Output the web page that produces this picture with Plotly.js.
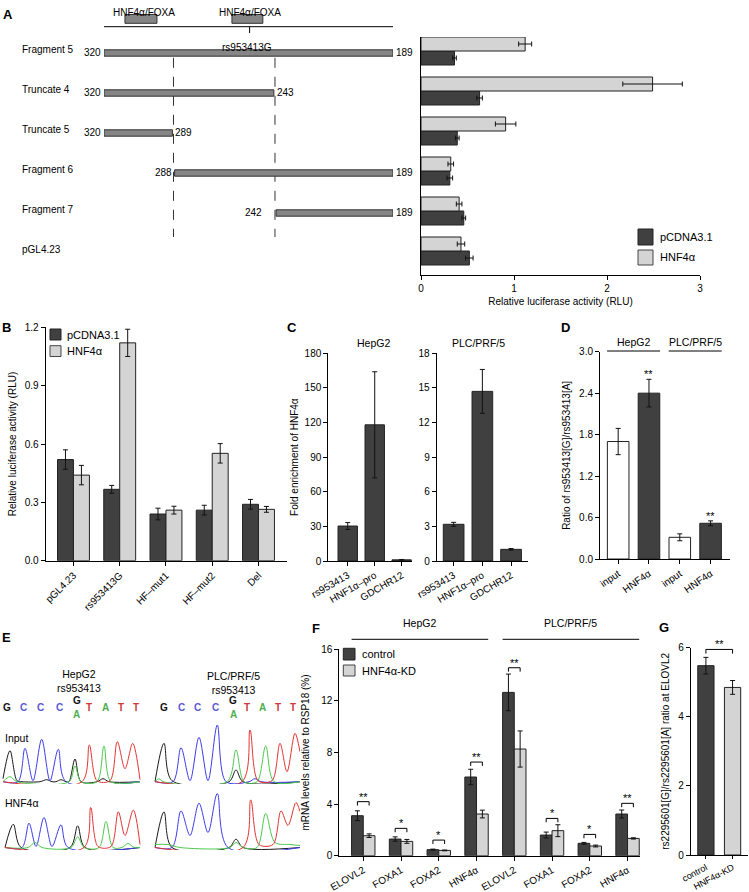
<!DOCTYPE html>
<html><head><meta charset="utf-8">
<script src="https://cdn.plot.ly/plotly-3.0.1.min.js"></script>
<style>html,body{margin:0;padding:0;background:#fff}#chart{width:749px;height:892px}</style>
</head><body><div id="chart"></div>
<script>
// ================= DATA =================
// Panel A (rows listed bottom -> top)
const aConstructs = ['pGL4.23','Fragment 7','Fragment 6','Truncate 5','Truncate 4','Fragment 5'];
const aPcdna      = [0.52, 0.46, 0.31, 0.39, 0.63, 0.36];
const aPcdnaErr   = [0.04, 0.02, 0.03, 0.02, 0.03, 0.02];
const aHnf4a      = [0.43, 0.41, 0.32, 0.91, 2.49, 1.12];
const aHnf4aErr   = [0.04, 0.03, 0.03, 0.11, 0.32, 0.07];
const aFragStart  = [null, 242, 288, 320, 320, 320];
const aFragEnd    = [null, 189, 189, 289, 243, 189];
const aRegion     = [320, 189];
const aMotifStart = [310.5, 262];
const aMotifEnd   = [296, 248];
const aMotifLabel = ['HNF4α/FOXA', 'HNF4α/FOXA'];
const aSnpPos     = 254;
const aSnpLabel   = 'rs953413G';
const aBoundaries = [288.5, 242.5];
const aTicks      = [0, 1, 2, 3];

// Panel B
const bLabels   = ['pGL4.23','rs953413G','HF–mut1','HF–mut2','Del'];
const bPcdna    = [0.52, 0.367, 0.24, 0.26, 0.29];
const bPcdnaErr = [0.05, 0.02, 0.03, 0.025, 0.025];
const bHnf4a    = [0.44, 1.12, 0.26, 0.552, 0.264];
const bHnf4aErr = [0.05, 0.07, 0.02, 0.05, 0.015];

// Panel C
const cTargets  = ['rs953413','HNF1α–pro','GDCHR12'];
const cHepg2    = [30.3, 118, 1.0];
const cHepg2Err = [3, 46, 0.3];
const cPlc      = [3.18, 14.7, 1.01];
const cPlcErr   = [0.17, 1.9, 0.07];

// Panel D
const dLabels = ['input','HNF4α','input','HNF4α'];
const dValues = [1.70, 2.40, 0.314, 0.517];
const dErr    = [0.19, 0.20, 0.05, 0.035];
const dSig    = ['', '**', '', '**'];

// Panel E (chromatogram vertices: [scan position, signal])
const eBases       = ['G','C','C','C','G','T','A','T','T'];
const eAltBase     = 'A';
const eHepBasePos  = [6.7, 23.3, 40, 59.3, 76.7, 89.3, 105.3, 120.7, 136];
const ePlcBasePos  = [164, 181, 197.7, 215, 233.3, 246.7, 262.7, 277.7, 292.7];
const eHepInBlack  = [[3,3],[10,31],[17,1],[22,0],[40,0],[46.7,2],[52,0],[56,0],[61,2],[66,0],[69,0],[75,22.7],[81,0],[97,0],[103,3],[109,0],[140,0]];
const eHepInBlue   = [[3,0],[18,0],[25,33.4],[33,1],[41.7,42.4],[50,1],[58.3,32.4],[66,0],[140,0]];
const eHepInGreen  = [[3,0],[10,5],[17,0],[69,0],[75,15.7],[81,0],[97,0],[104,35.7],[111,0],[140,0]];
const eHepInRed    = [[3,0],[82,0],[89.3,36.7],[97,1],[110,1],[117.3,40],[125,13],[132.7,38.4],[140,2]];
const eHepHnfBlack = [[5,0],[13.3,23.3],[21,0],[70,0],[77.7,21.7],[85,0],[140,0]];
const eHepHnfBlue  = [[5,0],[22,0],[29,24.3],[36,1],[44,30],[52,1],[61,22.7],[68,0],[140,0]];
const eHepHnfGreen = [[5,0],[28,0],[35,5],[42,0],[71,0],[77.7,10.7],[84,0],[99,0],[106,26],[113,0],[122,0],[128,4],[134,0],[140,0]];
const eHepHnfRed   = [[5,0],[84,0],[90.7,40],[98,1],[111,1],[118.3,35.7],[125,12],[133.3,37.4],[140,3]];
const ePlcInBlack  = [[155,0],[164,38.4],[172,1],[229,0],[236,11.7],[243,0],[300,0]];
const ePlcInBlue   = [[155,0],[173,0],[181,34],[190,1],[199,44.4],[208,1],[217.3,56.7],[226,0],[249,0],[255,3],[261,0],[300,0]];
const ePlcInGreen  = [[155,0],[159,3],[163,0],[227,0],[236,31.7],[244,0],[257,0],[265.7,35.7],[274,0],[300,0]];
const ePlcInRed    = [[155,0],[242,0],[250,51.7],[258,1],[272,1],[280,38.4],[287,10],[295,48.4],[300,30]];
const ePlcHnfBlack = [[155,0],[164,35.6],[172,0],[229,0],[236,8.3],[243,0],[300,0]];
const ePlcHnfBlue  = [[155,0],[172,0],[181,36.6],[190,12],[199,44.3],[208,15],[217.3,54],[228,0],[300,0]];
const ePlcHnfGreen = [[155,3],[168,3],[180,0],[230,0],[236,5],[243,0],[257,0],[265.7,34],[275,5],[290,3],[300,2]];
const ePlcHnfRed   = [[155,0],[243,0],[250.7,47.6],[259,3],[273,3],[281,36.6],[288,22],[296,45],[300,36]];

// Panel F
const fGenes      = ['ELOVL2','FOXA1','FOXA2','HNF4α','ELOVL2','FOXA1','FOXA2','HNF4α'];
const fControl    = [3.10, 1.29, 0.47, 6.10, 12.66, 1.60, 0.96, 3.23];
const fControlErr = [0.38, 0.17, 0.04, 0.60, 1.42, 0.23, 0.07, 0.31];
const fKd         = [1.55, 1.11, 0.41, 3.23, 8.27, 1.94, 0.75, 1.34];
const fKdErr      = [0.14, 0.15, 0.03, 0.30, 1.40, 0.46, 0.07, 0.05];
const fSig        = ['**','*','*','**','**','*','*','**'];
const fSigY       = [4.19, 2.12, 1.21, 7.26, 14.57, 2.89, 1.65, 4.06];

// Panel G
const gLabels = ['control','HNF4α-KD'];
const gValues = [5.48, 4.85];
const gErr    = [0.24, 0.20];
const gSig    = '**';
const gSigY   = 5.95;

// ================= STYLE / LAYOUT HELPERS =================
const FONT = 'Liberation Sans, Arial, Helvetica, sans-serif';
const DARK = '#404040', LIGHT = '#d4d4d4', EDGE = '#222', FRAG = '#858585';
const W = 749, H = 892;
const px = v => v / W, py = v => 1 - v / H;
const tf = {family: FONT, size: 10, color: '#000'};

function xa(a, b, range, anchor, extra) {
  return Object.assign({domain: [px(a), px(b)], range, anchor, showline: true, linecolor: '#000', linewidth: 1,
    ticks: 'outside', ticklen: 4, tickcolor: '#000', tickwidth: 1, showgrid: false, zeroline: false,
    tickfont: tf, fixedrange: true}, extra || {});
}
function ya(top, bottom, range, anchor, extra) {
  return Object.assign({domain: [py(bottom), py(top)], range, anchor, showline: true, linecolor: '#000', linewidth: 1,
    ticks: 'outside', ticklen: 4, tickcolor: '#000', tickwidth: 1, showgrid: false, zeroline: false,
    tickfont: tf, fixedrange: true}, extra || {});
}
const idx = arr => arr.map((_, i) => i);
function bar(x, y, err, xa_, ya_, color, width, offset, horiz) {
  const t = {type: 'bar', x, y, xaxis: xa_, yaxis: ya_, width, marker: {color, line: {color: EDGE, width: 1}},
    showlegend: false, hoverinfo: 'skip'};
  if (offset !== undefined) t.offset = offset;
  const e = {type: 'data', array: err, color: '#111', thickness: 1, width: 2.5};
  if (horiz) { t.orientation = 'h'; t.error_x = e; } else { t.error_y = e; }
  return t;
}

const traces = [], shapes = [], ann = [];
function text(x, y, s, opt) {
  ann.push(Object.assign({x, y, xref: 'paper', yref: 'paper', text: s, showarrow: false,
    font: {family: FONT, size: 10, color: '#000'}, xanchor: 'center', yanchor: 'middle'}, opt || {}));
}
function letter(x, y, s) { text(px(x), py(y), '<b>' + s + '</b>', {font: {family: FONT, size: 13, color: '#000'}}); }

// ================= PANEL A =================
const aI = idx(aConstructs);
traces.push(bar(aPcdna, aI, aPcdnaErr, 'x', 'y', DARK, 0.35, -0.35, true));
traces.push(bar(aHnf4a, aI, aHnf4aErr, 'x', 'y', LIGHT, 0.35, 0, true));
traces.push({type: 'scatter', mode: 'lines', xaxis: 'x2', yaxis: 'y',
  x: [aBoundaries[0], aBoundaries[0], null, aBoundaries[1], aBoundaries[1]],
  y: [4.83, 0.35, null, 4.83, 0.35], line: {color: '#333', width: 1, dash: '10px,9px'},
  showlegend: false, hoverinfo: 'skip'});
aI.forEach(i => {
  if (aFragStart[i] === null) return;
  shapes.push({type: 'rect', xref: 'x2', yref: 'y', x0: aFragStart[i], x1: aFragEnd[i], y0: i - 0.13, y1: i + 0.03,
    fillcolor: FRAG, line: {color: '#333', width: 1}});
  ann.push({x: aFragStart[i], y: i - 0.04, xref: 'x2', yref: 'y', text: String(aFragStart[i]), showarrow: false,
    xanchor: 'right', xshift: aFragStart[i] === 242 ? -12 : -1, font: {family: FONT, size: 10, color: '#000'}});
  ann.push({x: aFragEnd[i], y: i - 0.04, xref: 'x2', yref: 'y', text: String(aFragEnd[i]), showarrow: false,
    xanchor: 'left', xshift: 1, font: {family: FONT, size: 10, color: '#000'}});
});
aI.forEach(i => ann.push({x: px(20), y: i, xref: 'paper', yref: 'y', text: aConstructs[i], showarrow: false,
  xanchor: 'left', yshift: 1, font: {family: FONT, size: 10, color: '#000'}}));
shapes.push({type: 'line', xref: 'x2', yref: 'paper', x0: aRegion[0], x1: aRegion[1], y0: py(26.7), y1: py(26.7),
  line: {color: '#000', width: 1}});
aMotifStart.forEach((s, k) => {
  shapes.push({type: 'rect', xref: 'x2', yref: 'paper', x0: s, x1: aMotifEnd[k], y0: py(23.3), y1: py(14.5),
    fillcolor: FRAG, line: {color: '#333', width: 1}});
  ann.push({x: (s + aMotifEnd[k]) / 2, y: py(6.3), xref: 'x2', yref: 'paper', text: aMotifLabel[k], borderpad: 0,
    showarrow: false, xshift: 3, font: {family: FONT, size: 10, color: '#000'}});
});
shapes.push({type: 'line', xref: 'x2', yref: 'paper', x0: aSnpPos, x1: aSnpPos, y0: py(26.7), y1: py(33),
  line: {color: '#000', width: 1}});
ann.push({x: aSnpPos, y: py(41), xref: 'x2', yref: 'paper', text: aSnpLabel, showarrow: false, xshift: -3, borderpad: 0,
  font: {family: FONT, size: 10, color: '#000'}});
shapes.push({type: 'rect', xref: 'paper', yref: 'paper', x0: px(638), x1: px(653), y0: py(245), y1: py(229), fillcolor: DARK, line: {color: EDGE, width: 1}});
shapes.push({type: 'rect', xref: 'paper', yref: 'paper', x0: px(638), x1: px(653), y0: py(265), y1: py(250), fillcolor: LIGHT, line: {color: '#444', width: 1}});
text(px(658), py(237), 'pCDNA3.1', {xanchor: 'left', font: {family: FONT, size: 11, color: '#000'}});
text(px(658), py(257.5), 'HNF4α', {xanchor: 'left', font: {family: FONT, size: 11, color: '#000'}});
letter(8, 14, 'A');

// ================= PANEL B =================
const bI = idx(bLabels);
traces.push(bar(bI, bPcdna, bPcdnaErr, 'x3', 'y3', DARK, 0.345, -0.345));
traces.push(bar(bI, bHnf4a, bHnf4aErr, 'x3', 'y3', LIGHT, 0.345, 0));
shapes.push({type: 'rect', xref: 'paper', yref: 'paper', x0: px(50), x1: px(61), y0: py(340), y1: py(329), fillcolor: DARK, line: {color: EDGE, width: 1}});
shapes.push({type: 'rect', xref: 'paper', yref: 'paper', x0: px(50), x1: px(61), y0: py(356.5), y1: py(345.7), fillcolor: LIGHT, line: {color: '#444', width: 1}});
text(px(65), py(334.5), 'pCDNA3.1', {xanchor: 'left', font: {family: FONT, size: 11, color: '#000'}});
text(px(65), py(351), 'HNF4α', {xanchor: 'left', font: {family: FONT, size: 11, color: '#000'}});
letter(7, 327, 'B');

// ================= PANEL C =================
traces.push(bar(idx(cTargets), cHepg2, cHepg2Err, 'x4', 'y4', DARK, 0.72));
traces.push(bar(idx(cTargets), cPlc, cPlcErr, 'x5', 'y5', DARK, 0.72));
text(px(373), py(343.3), 'HepG2', {font: {family: FONT, size: 10.5, color: '#000'}});
text(px(478), py(343.3), 'PLC/PRF/5', {font: {family: FONT, size: 10.5, color: '#000'}});
letter(292, 328, 'C');

// ================= PANEL D =================
traces.push(bar(idx(dLabels), dValues, dErr, 'x6', 'y6', dLabels.map(l => l === 'input' ? '#ffffff' : DARK), 0.7));
dSig.forEach((s, i) => { if (s) ann.push({x: i, y: dValues[i] + dErr[i], xref: 'x6', yref: 'y6', text: s, showarrow: false,
  yanchor: 'bottom', yshift: -3, font: {family: FONT, size: 11, color: '#000'}}); });
[[0, 1, 'HepG2'], [2, 3, 'PLC/PRF/5']].forEach(([a, b, s]) => {
  shapes.push({type: 'line', xref: 'x6', yref: 'paper', x0: a - 0.36, x1: b + 0.36, y0: py(351), y1: py(351), line: {color: '#000', width: 1}});
  ann.push({x: (a + b) / 2, y: py(342), xref: 'x6', yref: 'paper', text: s, showarrow: false, font: {family: FONT, size: 10.5, color: '#000'}});
});
letter(565, 327, 'D');

// ================= PANEL E =================
const eColors = {G: '#111111', C: '#5a5ad0', T: '#cc3b3b', A: '#4fae4f'};
const lineCols = {k: '#1a1a1a', b: '#3c3cea', g: '#4cc84c', r: '#e23434'};
[[eHepInBlack, 'k', 'y7'], [eHepInBlue, 'b', 'y7'], [eHepInGreen, 'g', 'y7'], [eHepInRed, 'r', 'y7'],
 [ePlcInBlack, 'k', 'y7'], [ePlcInBlue, 'b', 'y7'], [ePlcInGreen, 'g', 'y7'], [ePlcInRed, 'r', 'y7'],
 [eHepHnfBlack, 'k', 'y8'], [eHepHnfBlue, 'b', 'y8'], [eHepHnfGreen, 'g', 'y8'], [eHepHnfRed, 'r', 'y8'],
 [ePlcHnfBlack, 'k', 'y8'], [ePlcHnfBlue, 'b', 'y8'], [ePlcHnfGreen, 'g', 'y8'], [ePlcHnfRed, 'r', 'y8']]
.forEach(([pts, c, yax]) => traces.push({type: 'scatter', mode: 'lines', x: pts.map(p => p[0]), y: pts.map(p => p[1]),
  xaxis: yax === 'y7' ? 'x7' : 'x8', yaxis: yax, line: {color: lineCols[c], width: 1, shape: 'spline', smoothing: 0.9},
  showlegend: false, hoverinfo: 'skip'}));
[eHepBasePos, ePlcBasePos].forEach(pos => {
  eBases.forEach((b, i) => {
    const isSnp = i === 4;
    ann.push({x: pos[i], y: py(isSnp ? 707 : 714), xref: 'x7', yref: 'paper', text: '<b>' + b + '</b>', showarrow: false,
      borderpad: 0, font: {family: FONT, size: 10, color: eColors[b]}});
    if (isSnp) ann.push({x: pos[i], y: py(720.5), xref: 'x7', yref: 'paper', text: '<b>' + eAltBase + '</b>', showarrow: false,
      borderpad: 0, font: {family: FONT, size: 10, color: eColors[eAltBase]}});
  });
});
text(px(79), py(681), 'HepG2<br>rs953413', {borderpad: 0, font: {family: FONT, size: 10.5, color: '#000'}});
text(px(233), py(683), 'PLC/PRF/5<br>rs953413', {borderpad: 0, font: {family: FONT, size: 10.5, color: '#000'}});
text(px(3), py(737.5), 'Input', {xanchor: 'left', font: {family: FONT, size: 10.5, color: '#000'}});
text(px(3), py(803), 'HNF4α', {xanchor: 'left', font: {family: FONT, size: 10.5, color: '#000'}});
letter(7, 637, 'E');

// ================= PANEL F =================
const fI = idx(fGenes);
traces.push(bar(fI, fControl, fControlErr, 'x9', 'y9', DARK, 0.31, -0.31));
traces.push(bar(fI, fKd, fKdErr, 'x9', 'y9', LIGHT, 0.31, 0));
const brX = [], brY = [];
fI.forEach(i => { const s = fSigY[i]; brX.push(i - 0.155, i - 0.155, i + 0.155, i + 0.155, null); brY.push(s - 0.3, s, s, s - 0.3, null);
  ann.push({x: i, y: s, xref: 'x9', yref: 'y9', text: fSig[i], showarrow: false, yanchor: 'bottom', yshift: -3,
    font: {family: FONT, size: 11, color: '#000'}}); });
traces.push({type: 'scatter', mode: 'lines', x: brX, y: brY, xaxis: 'x9', yaxis: 'y9', line: {color: '#000', width: 1},
  showlegend: false, hoverinfo: 'skip', cliponaxis: false});
[[0, 3, 'HepG2'], [4, 7, 'PLC/PRF/5']].forEach(([a, b, s]) => {
  shapes.push({type: 'line', xref: 'x9', yref: 'paper', x0: a - 0.31, x1: b + 0.31, y0: py(639.3), y1: py(639.3), line: {color: '#000', width: 1}});
  ann.push({x: (a + b) / 2, y: py(631), xref: 'x9', yref: 'paper', text: s, showarrow: false, font: {family: FONT, size: 10.5, color: '#000'}});
});
shapes.push({type: 'rect', xref: 'paper', yref: 'paper', x0: px(343.3), x1: px(355), y0: py(660), y1: py(648.3), fillcolor: DARK, line: {color: EDGE, width: 1}});
shapes.push({type: 'rect', xref: 'paper', yref: 'paper', x0: px(343.3), x1: px(355), y0: py(676), y1: py(665), fillcolor: LIGHT, line: {color: '#444', width: 1}});
text(px(360), py(654), 'control', {xanchor: 'left', font: {family: FONT, size: 11, color: '#000'}});
text(px(360), py(670.5), 'HNF4α-KD', {xanchor: 'left', font: {family: FONT, size: 11, color: '#000'}});
letter(316, 628, 'F');

// ================= PANEL G =================
traces.push(bar(idx(gLabels), gValues, gErr, 'x10', 'y10', [DARK, LIGHT], 0.61));
traces.push({type: 'scatter', mode: 'lines', x: [0, 0, 1, 1], y: [gSigY - 0.12, gSigY, gSigY, gSigY - 0.12], xaxis: 'x10', yaxis: 'y10',
  line: {color: '#000', width: 1}, showlegend: false, hoverinfo: 'skip', cliponaxis: false});
ann.push({x: 0.5, y: gSigY, xref: 'x10', yref: 'y10', text: gSig, showarrow: false, yanchor: 'bottom', yshift: -3,
  font: {family: FONT, size: 11, color: '#000'}});
letter(664, 627, 'G');

// ================= AXES =================
const ttl = s => ({text: s, font: {family: FONT, size: 10, color: '#000'}});
const layout = {
  width: W, height: H, margin: {l: 0, r: 0, t: 0, b: 0}, autosize: false,
  paper_bgcolor: '#fff', plot_bgcolor: 'rgba(0,0,0,0)', showlegend: false, barmode: 'overlay',
  font: {family: FONT, size: 10, color: '#000'},
  xaxis: xa(421, 700, [0, 3], 'y', {tickvals: aTicks, title: Object.assign(ttl('Relative luciferase activity (RLU)'), {standoff: 4})}),
  yaxis: ya(37, 275, [-0.6, 5.35], 'x', {showticklabels: false, ticks: ''}),
  xaxis2: {domain: [px(104), px(393)], range: [aRegion[0], aRegion[1]], anchor: 'y', visible: false, fixedrange: true},
  xaxis3: xa(45.7, 286.7, [-0.6, 4.61], 'y3', {tickvals: bI, ticktext: bLabels, tickangle: -45}),
  yaxis3: ya(327.3, 560.7, [0, 1.2], 'x3', {dtick: 0.3, tickformat: '.1f', title: ttl('Relative luciferase activity (RLU)')}),
  xaxis4: xa(328.3, 411.7, [-0.72, 2.37], 'y4', {tickvals: idx(cTargets), ticktext: cTargets, tickangle: -30}),
  yaxis4: ya(353.3, 561, [0, 180], 'x4', {dtick: 30, title: ttl('Fold enrichment of HNF4α')}),
  xaxis5: xa(436.7, 528.3, [-0.59, 2.6], 'y5', {tickvals: idx(cTargets), ticktext: cTargets, tickangle: -30}),
  yaxis5: ya(353.3, 561, [0, 18], 'x5', {dtick: 3}),
  xaxis6: xa(600, 730, [-0.59, 3.63], 'y6', {tickvals: idx(dLabels), ticktext: dLabels, tickangle: -35}),
  yaxis6: ya(351.7, 559, [0, 3], 'x6', {dtick: 0.6, tickformat: '.1f', title: ttl('Ratio of rs953413[G]/rs953413[A]')}),
  xaxis7: {domain: [0, px(300)], range: [0, 300], anchor: 'y7', visible: false, fixedrange: true},
  yaxis7: {domain: [py(784), py(722)], range: [-2.3, 59.7], anchor: 'x7', visible: false, fixedrange: true},
  xaxis8: {domain: [0, px(300)], range: [0, 300], anchor: 'y8', visible: false, fixedrange: true},
  yaxis8: {domain: [py(850), py(790)], range: [-2.5, 57.5], anchor: 'x8', visible: false, fixedrange: true},
  xaxis9: xa(339.3, 640, [-0.635, 7.33], 'y9', {tickvals: fI, ticktext: fGenes, tickangle: -30}),
  yaxis9: ya(649.3, 855.7, [0, 16], 'x9', {dtick: 4, title: ttl('mRNA levels relative to RSP18 (%)')}),
  xaxis10: xa(690.7, 748.3, [-0.57, 1.59], 'y10', {tickvals: idx(gLabels), ticktext: gLabels, tickangle: -28,
    ticklen: 3, tickfont: {family: FONT, size: 9, color: '#000'}}),
  yaxis10: ya(647.7, 855, [0, 6], 'x10', {dtick: 2, title: Object.assign(ttl('rs2295601[G]/rs2295601[A] ratio at ELOVL2'), {standoff: 6})}),
  shapes, annotations: ann
};
Plotly.newPlot('chart', traces, layout, {staticPlot: true, displayModeBar: false});
</script></body></html>
